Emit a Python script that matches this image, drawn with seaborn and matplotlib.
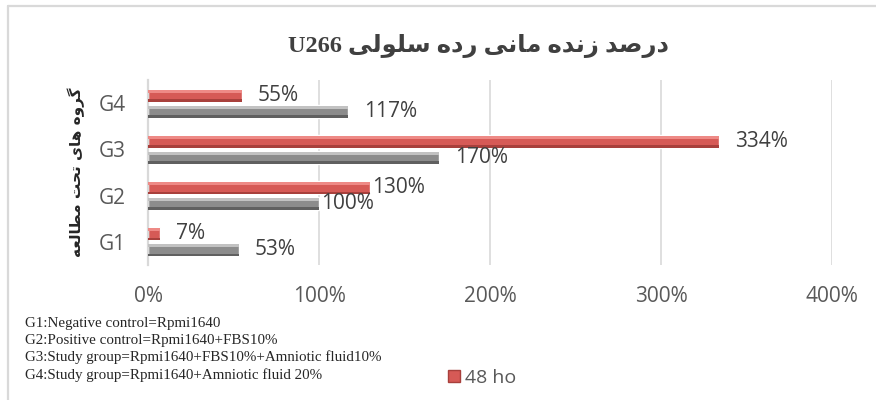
import matplotlib
matplotlib.use("Agg")
import matplotlib.pyplot as plt
from matplotlib.patches import Rectangle
from matplotlib.ticker import PercentFormatter
from matplotlib.lines import Line2D
import seaborn as sns
import pandas as pd

# data
groups = ["G4", "G3", "G2", "G1"]
h48 = [55, 334, 130, 7]
h24 = [117, 170, 100, 53]
series = ["48 hours", "24 hours"]
legend_label = "48 ho"

title_fa = "درصد زنده مانی رده سلولی"
title_en = "U266"
ylabel_fa = "گروه های تحت مطالعه"
notes = [
    "G1:Negative control=Rpmi1640",
    "G2:Positive control=Rpmi1640+FBS10%",
    "G3:Study group=Rpmi1640+FBS10%+Amniotic fluid10%",
    "G4:Study group=Rpmi1640+Amniotic fluid 20%",
]

# minimal arabic/persian shaping: (isolated, final, initial, medial)
FORMS = {
    "ا": ("\uFE8D", "\uFE8E", None, None),
    "د": ("\uFEA9", "\uFEAA", None, None),
    "ذ": ("\uFEAB", "\uFEAC", None, None),
    "ر": ("\uFEAD", "\uFEAE", None, None),
    "ز": ("\uFEAF", "\uFEB0", None, None),
    "و": ("\uFEED", "\uFEEE", None, None),
    "ب": ("\uFE8F", "\uFE90", "\uFE91", "\uFE92"),
    "ت": ("\uFE95", "\uFE96", "\uFE97", "\uFE98"),
    "ح": ("\uFEA1", "\uFEA2", "\uFEA3", "\uFEA4"),
    "س": ("\uFEB1", "\uFEB2", "\uFEB3", "\uFEB4"),
    "ص": ("\uFEB9", "\uFEBA", "\uFEBB", "\uFEBC"),
    "ط": ("\uFEC1", "\uFEC2", "\uFEC3", "\uFEC4"),
    "ع": ("\uFEC9", "\uFECA", "\uFECB", "\uFECC"),
    "ل": ("\uFEDD", "\uFEDE", "\uFEDF", "\uFEE0"),
    "م": ("\uFEE1", "\uFEE2", "\uFEE3", "\uFEE4"),
    "ن": ("\uFEE5", "\uFEE6", "\uFEE7", "\uFEE8"),
    "ه": ("\uFEE9", "\uFEEA", "\uFEEB", "\uFEEC"),
    "ی": ("\uFBFC", "\uFBFD", "\uFBFE", "\uFBFF"),
    "گ": ("\uFB92", "\uFB93", "\uFB94", "\uFB95"),
}


def shape_rtl(text):
    out = []
    for i, ch in enumerate(text):
        if ch not in FORMS:
            out.append(ch)
            continue
        prev = text[i - 1] if i > 0 else ""
        nxt = text[i + 1] if i + 1 < len(text) else ""
        join_prev = prev in FORMS and FORMS[prev][2] is not None
        join_next = FORMS[ch][2] is not None and nxt in FORMS
        iso, fin, ini, med = FORMS[ch]
        if join_prev and join_next:
            out.append(med)
        elif join_prev:
            out.append(fin)
        elif join_next:
            out.append(ini)
        else:
            out.append(iso)
    return "".join(reversed(out))


df = pd.DataFrame({
    "group": groups * 2,
    "value": h48 + h24,
    "series": [series[0]] * len(groups) + [series[1]] * len(groups),
})

sns.set_style("white")
plt.rcParams["font.family"] = ["Open Sans", "DejaVu Sans"]

red = "#d65a56"
gray = "#8c8c8c"
text_col = "#595959"

fig = plt.figure(figsize=(8.76, 4.0), dpi=100)
ax = fig.add_axes([0.169, 0.3375, 0.781, 0.4625])

sns.barplot(data=df, x="value", y="group", hue="series", order=groups,
            hue_order=series, palette=[red, gray], width=0.69, gap=0.19,
            legend=False, ax=ax, saturation=1)

# fake 3d bevel on the bars
light = {red: "#ee8a86", gray: "#c2c2c2"}
dark = {red: "#a8403c", gray: "#606060"}
for i, cont in enumerate(ax.containers):
    base = red if i == 0 else gray
    for p in cont.patches:
        x0, y0 = p.get_x(), p.get_y()
        w, h = p.get_width(), p.get_height()
        ax.add_patch(Rectangle((x0, y0 + h * 0.08), w, h * 0.22, color=light[base], lw=0, zorder=3))
        ax.add_patch(Rectangle((x0, y0 + h * 0.8), w, h * 0.2, color=dark[base], lw=0, zorder=3))

# value labels
for i, cont in enumerate(ax.containers):
    for g, p in zip(groups, cont.patches):
        dx = 2 if g == "G2" else 16
        ax.annotate(f"{p.get_width():.0f}%", (p.get_width(), p.get_y() + p.get_height() / 2),
                    xytext=(dx * 0.72, 0), textcoords="offset points",
                    ha="left", va="center", fontsize=15, color="#404040", zorder=5)

ax.set_xlim(0, 400)
ax.set_ylim(3.5, -0.5)
ax.set_xticks([0, 100, 200, 300, 400])
ax.xaxis.set_major_formatter(PercentFormatter(decimals=0))
ax.grid(axis="x", color="#d9d9d9", lw=1.2)
ax.set_axisbelow(True)
for s in ["top", "right", "bottom"]:
    ax.spines[s].set_visible(False)
ax.spines["left"].set_color("#d9d9d9")
ax.spines["left"].set_linewidth(1.6)
ax.tick_params(axis="x", length=0, pad=15, labelsize=15, labelcolor=text_col)
ax.tick_params(axis="y", length=0, pad=16, labelsize=15, labelcolor=text_col)
ax.set_xlabel("")
ax.set_ylabel(shape_rtl(ylabel_fa), fontsize=11, fontweight="bold", color="#262626",
              family=["DejaVu Sans"], labelpad=10)

fig.text(0.546, 0.885, title_en + " " + shape_rtl(title_fa), ha="center", va="center",
         fontsize=17.5, fontweight="bold", color="#404040",
         family=["Liberation Serif", "DejaVu Sans"])

# footnotes
for k, line in enumerate(notes):
    fig.text(0.029, 0.192 - k * 0.043, line, ha="left", va="center", fontsize=10.8,
             family=["Liberation Serif"], color="#262626")

# legend (only the visible entry)
handle = Line2D([], [], marker="s", color=red, markersize=9, lw=0, markeredgecolor="#a8403c")
fig.legend([handle], [legend_label], loc="center left", bbox_to_anchor=(0.496, 0.055),
           frameon=False, fontsize=14, labelcolor=text_col, handletextpad=0.05,
           handlelength=1.0, borderpad=0)

# chart frame (left and top edges visible)
fig.add_artist(Line2D([0.0097, 0.0097], [0.0, 0.985], color="#d9d9d9", lw=1.6))
fig.add_artist(Line2D([0.0097, 1.0], [0.985, 0.985], color="#d9d9d9", lw=1.6))

fig.savefig("out.png", dpi=100)
